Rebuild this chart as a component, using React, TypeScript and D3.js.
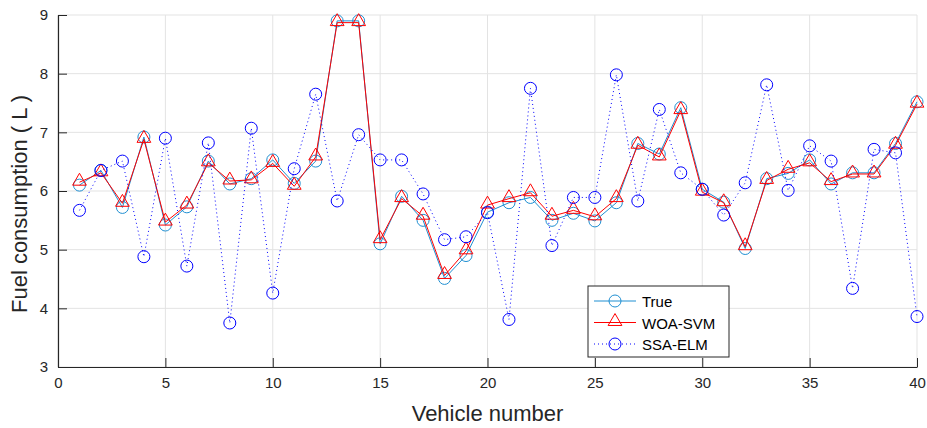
import React, { useEffect, useRef } from 'react';
import * as d3 from 'd3';

const vehicles = d3.range(1, 41);
const trueVals = [6.1, 6.35, 5.72, 6.92, 5.42, 5.73, 6.51, 6.12, 6.21, 6.53, 6.13, 6.51, 8.9, 8.9, 5.1, 5.91, 5.5, 4.51, 4.9, 5.64,
  5.8, 5.89, 5.5, 5.62, 5.49, 5.8, 6.81, 6.63, 7.42, 6.03, 5.81, 5.02, 6.21, 6.3, 6.53, 6.12, 6.31, 6.31, 6.81, 7.52];
const woaSvm = [6.15, 6.31, 5.79, 6.88, 5.47, 5.76, 6.48, 6.17, 6.19, 6.47, 6.08, 6.58, 8.87, 8.87, 5.17, 5.87, 5.57, 4.56, 4.98, 5.76,
  5.87, 5.97, 5.57, 5.67, 5.56, 5.87, 6.78, 6.58, 7.37, 5.98, 5.8, 5.05, 6.18, 6.37, 6.48, 6.16, 6.29, 6.29, 6.78, 7.48];
const ssaElm = [5.67, 6.35, 6.51, 4.88, 6.9, 4.72, 6.82, 3.75, 7.07, 4.26, 6.38, 7.65, 5.83, 6.96, 6.53, 6.53, 5.95, 5.17, 5.22, 5.63,
  3.81, 7.75, 5.07, 5.89, 5.89, 7.98, 5.83, 7.39, 6.31, 6.03, 5.59, 6.14, 7.81, 6.01, 6.77, 6.51, 4.34, 6.71, 6.65, 3.86];
const xTicks = [0, 5, 10, 15, 20, 25, 30, 35, 40];
const yTicks = [3, 4, 5, 6, 7, 8, 9];

const FONT = '"Liberation Sans", Arial, sans-serif';

const App = () => {
  const ref = useRef<SVGSVGElement>(null);

  useEffect(() => {
    const svg = d3.select(ref.current);
    svg.selectAll('*').remove();

    const margin = { top: 15, right: 10, bottom: 61, left: 58 };
    const width = 927 - margin.left - margin.right;
    const height = 428 - margin.top - margin.bottom;

    const x = d3.scaleLinear().domain([0, 40]).range([0, width]);
    const y = d3.scaleLinear().domain([3, 9]).range([height, 0]);

    const g = svg.append('g').attr('transform', `translate(${margin.left},${margin.top})`);

    // grid
    g.append('g').selectAll('line').data(xTicks).enter().append('line')
      .attr('x1', d => x(d)).attr('x2', d => x(d)).attr('y1', 0).attr('y2', height)
      .attr('stroke', '#e3e3e3').attr('stroke-width', 1);
    g.append('g').selectAll('line').data(yTicks).enter().append('line')
      .attr('x1', 0).attr('x2', width).attr('y1', d => y(d)).attr('y2', d => y(d))
      .attr('stroke', '#e3e3e3').attr('stroke-width', 1);

    // axes
    const xAxis = g.append('g').attr('transform', `translate(0,${height})`)
      .call(d3.axisBottom(x).tickValues(xTicks).tickFormat(d3.format('d')).tickSizeInner(-9).tickSizeOuter(0).tickPadding(10));
    const yAxis = g.append('g')
      .call(d3.axisLeft(y).tickValues(yTicks).tickFormat(d3.format('d')).tickSizeInner(-9).tickSizeOuter(0).tickPadding(10));
    [xAxis, yAxis].forEach(a => {
      a.select('.domain').attr('stroke', '#262626').attr('stroke-width', 1.2);
      a.selectAll('.tick line').attr('stroke', '#262626');
      a.selectAll('.tick text').attr('fill', '#262626').style('font-family', FONT).style('font-size', '15px');
    });

    const series = [
      { name: 'True', values: trueVals, color: '#1f8fd2', dash: null, marker: 'circle', lw: 1 },
      { name: 'WOA-SVM', values: woaSvm, color: '#ff0000', dash: null, marker: 'triangle', lw: 1 },
      { name: 'SSA-ELM', values: ssaElm, color: '#0000ff', dash: '1,3', marker: 'circle', lw: 1 },
    ];

    const line = d3.line<number>().x((d, i) => x(vehicles[i])).y(d => y(d));
    const tri = d3.symbol().type(d3.symbolTriangle).size(82);

    const drawMarker = (sel: any, s: any, cx: number, cy: number) => {
      if (s.marker === 'circle') {
        sel.append('circle').attr('cx', cx).attr('cy', cy).attr('r', 6)
          .attr('fill', 'none').attr('stroke', s.color).attr('stroke-width', 1);
      } else {
        sel.append('path').attr('d', tri()).attr('transform', `translate(${cx},${cy - 1})`)
          .attr('fill', 'none').attr('stroke', s.color).attr('stroke-width', 1);
      }
    };

    series.forEach(s => {
      const sg = g.append('g');
      sg.append('path').datum(s.values).attr('d', line)
        .attr('fill', 'none').attr('stroke', s.color).attr('stroke-width', s.lw)
        .attr('stroke-dasharray', s.dash);
      s.values.forEach((v, i) => drawMarker(sg, s, x(vehicles[i]), y(v)));
    });

    // labels
    svg.append('text').attr('x', margin.left + width / 2).attr('y', 421)
      .attr('text-anchor', 'middle').style('font-family', FONT).style('font-size', '22px')
      .attr('fill', '#262626').text('Vehicle number');
    svg.append('text').attr('transform', `translate(27,${margin.top + height / 2 + 13}) rotate(-90)`)
      .attr('text-anchor', 'middle').style('font-family', FONT).style('font-size', '22px')
      .attr('fill', '#262626').text('Fuel consumption ( L )');

    // legend
    const lg = svg.append('g').attr('transform', 'translate(588,286)');
    lg.append('rect').attr('width', 141).attr('height', 71)
      .attr('fill', 'white').attr('stroke', '#262626').attr('stroke-width', 1);
    series.forEach((s, i) => {
      const row = lg.append('g').attr('transform', `translate(0,${15 + i * 21.5})`);
      row.append('line').attr('x1', 6).attr('x2', 48).attr('y1', 0).attr('y2', 0)
        .attr('stroke', s.color).attr('stroke-width', s.lw).attr('stroke-dasharray', s.dash);
      drawMarker(row, s, 27, 0);
      row.append('text').attr('x', 54).attr('y', 6).style('font-family', FONT).style('font-size', '15px')
        .attr('fill', '#000').text(s.name);
    });
  }, []);

  return (
    <svg ref={ref} width={927} height={428}
      style={{ position: 'absolute', left: 0, top: 0, background: 'white' }} />
  );
};

export default App;
